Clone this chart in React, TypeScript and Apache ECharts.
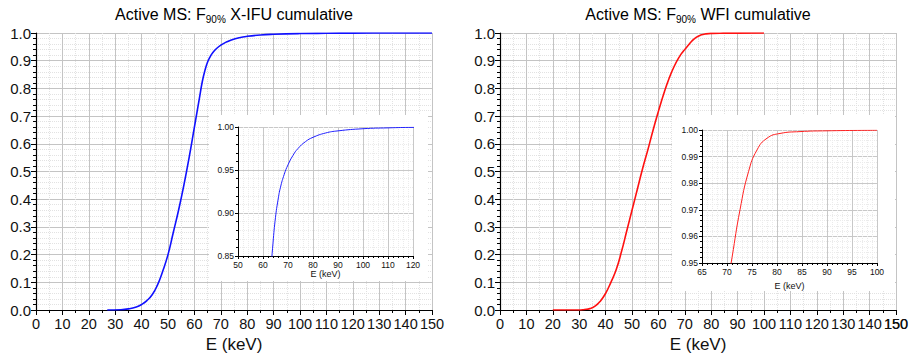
import React, { useEffect, useRef } from 'react';
import * as echarts from 'echarts';

// X-IFU cumulative F90% distribution
const xifuEnergy = [27, 32, 35, 38, 40, 42, 44, 46, 48, 50, 52, 54, 56, 58, 60, 62, 63, 64, 65, 66, 67, 68.5, 70, 72, 74, 77, 80, 85, 90, 100, 110, 120, 135, 150];
const xifuCumulative = [0, 0.001, 0.004, 0.011, 0.02, 0.034, 0.055, 0.09, 0.14, 0.2, 0.28, 0.36, 0.45, 0.55, 0.66, 0.77, 0.825, 0.865, 0.895, 0.915, 0.93, 0.945, 0.956, 0.967, 0.975, 0.983, 0.988, 0.993, 0.9955, 0.998, 0.999, 0.9996, 0.9999, 1.0];

// WFI cumulative F90% distribution
const wfiEnergy = [20, 30, 32, 34, 36, 38, 40, 42, 44, 46, 48, 50, 52, 54, 56, 58, 60, 62, 64, 66, 68, 69.5, 71, 72.6, 74.3, 76, 78, 80.6, 84.6, 90, 100];
const wfiCumulative = [0, 0, 0.002, 0.005, 0.014, 0.032, 0.06, 0.1, 0.145, 0.21, 0.285, 0.36, 0.435, 0.51, 0.578, 0.65, 0.717, 0.78, 0.835, 0.88, 0.915, 0.935, 0.952, 0.97, 0.9843, 0.9925, 0.9969, 0.9987, 0.9994, 0.9997, 0.9999];

// main x-axis range
const mainXMin = 0;
const mainXMax = 150;

const titles = ['Active MS: F|90%| X-IFU cumulative', 'Active MS: F|90%| WFI cumulative'];
const axisName = 'E (keV)';

const FONT = 'Liberation Sans';
const X_LABEL_SIZE = 14.5;
const X_LABEL_MARGIN = 6;

function pairs(xs: number[], ys: number[]) {
  return xs.map((x, i) => [x, ys[i]]);
}

function richTitle(t: string) {
  const [a, s, b] = t.split('|');
  return `{a|${a}}{s|${s}}{a|${b}}`;
}

function mainX(gridIndex: number) {
  return {
    type: 'value', gridIndex, min: mainXMin, max: mainXMax, interval: 10,
    axisLine: { show: true, onZero: false, lineStyle: { color: '#000', width: 1.2 } },
    axisTick: { show: true, length: 5, lineStyle: { color: '#000' } },
    minorTick: { show: true, splitNumber: 2, length: 3, lineStyle: { color: '#000' } },
    axisLabel: { color: '#111', fontSize: X_LABEL_SIZE, fontFamily: FONT, margin: X_LABEL_MARGIN, showMinLabel: true, showMaxLabel: true, hideOverlap: false },
    splitLine: { show: true, lineStyle: { color: '#c4c4c4', width: 1 } },
    minorSplitLine: { show: true, lineStyle: { color: '#e2e2e2', type: 'dotted', width: 1 } },
    name: axisName, nameLocation: 'middle', nameGap: 26,
    nameTextStyle: { fontSize: 17, color: '#111', fontFamily: FONT },
  };
}

function mainY(gridIndex: number) {
  return {
    type: 'value', gridIndex, min: 0, max: 1, interval: 0.1,
    axisLine: { show: true, onZero: false, lineStyle: { color: '#000', width: 1.2 } },
    axisTick: { show: true, length: 5, lineStyle: { color: '#000' } },
    minorTick: { show: true, splitNumber: 5, length: 3, lineStyle: { color: '#000' } },
    axisLabel: { color: '#111', fontSize: 15, fontFamily: FONT, margin: 5, showMinLabel: true, showMaxLabel: true, formatter: (v: number) => v.toFixed(1) },
    splitLine: { show: true, lineStyle: { color: '#c4c4c4', width: 1 } },
    minorSplitLine: { show: true, lineStyle: { color: '#e2e2e2', type: 'dotted', width: 1 } },
  };
}

function insetX(gridIndex: number, min: number, max: number, interval: number, nameGap: number) {
  return {
    type: 'value', gridIndex, min, max, interval, z: 4,
    axisLine: { show: true, onZero: false, lineStyle: { color: '#000', width: 1 } },
    axisTick: { show: true, length: 3, lineStyle: { color: '#000' } },
    minorTick: { show: true, splitNumber: 5, length: 2, lineStyle: { color: '#000' } },
    axisLabel: { color: '#111', fontSize: 8.5, fontFamily: FONT, margin: 4, showMinLabel: true, showMaxLabel: true },
    splitLine: { show: true, lineStyle: { color: '#c8c8c8', width: 1 } },
    minorSplitLine: { show: true, lineStyle: { color: '#ebebeb', type: 'dotted', width: 1 } },
    name: axisName, nameLocation: 'middle', nameGap,
    nameTextStyle: { fontSize: 9, color: '#111', fontFamily: FONT },
  };
}

function insetY(gridIndex: number, min: number, max: number, interval: number) {
  return {
    type: 'value', gridIndex, min, max, interval, z: 4,
    axisLine: { show: true, onZero: false, lineStyle: { color: '#000', width: 1 } },
    axisTick: { show: true, length: 3, lineStyle: { color: '#000' } },
    minorTick: { show: true, splitNumber: 5, length: 2, lineStyle: { color: '#000' } },
    axisLabel: { color: '#111', fontSize: 8.5, fontFamily: FONT, margin: 4, showMinLabel: true, showMaxLabel: true, formatter: (v: number) => v.toFixed(2) },
    splitLine: { show: true, lineStyle: { color: '#c8c8c8', width: 1 } },
    minorSplitLine: { show: true, lineStyle: { color: '#ebebeb', type: 'dotted', width: 1 } },
  };
}

const titleRich = {
  a: { fontSize: 16, fontFamily: FONT, color: '#222', lineHeight: 20 },
  s: { fontSize: 10, fontFamily: FONT, color: '#222', lineHeight: 2, verticalAlign: 'bottom' },
};

export default function App() {
  const ref = useRef<HTMLDivElement>(null);
  useEffect(() => {
    if (!ref.current) return;
    const chart = echarts.init(ref.current, undefined, { renderer: 'svg' });
    const xifu = pairs(xifuEnergy, xifuCumulative);
    const wfi = pairs(wfiEnergy, wfiCumulative);
    const baseGraphics: any[] = [
      { type: 'rect', z: 3, shape: { x: 209, y: 115, width: 219, height: 166 }, style: { fill: '#fff' } },
      { type: 'rect', z: 3, shape: { x: 672, y: 115, width: 223, height: 176 }, style: { fill: '#fff' } },
      { type: 'text', z: 6, x: 234, y: 14, style: { text: richTitle(titles[0]), align: 'center', verticalAlign: 'middle', rich: titleRich } },
      { type: 'text', z: 6, x: 698, y: 14, style: { text: richTitle(titles[1]), align: 'center', verticalAlign: 'middle', rich: titleRich } },
    ];
    chart.setOption({
      animation: false,
      backgroundColor: '#fff',
      grid: [
        { left: 36, top: 33, width: 396, height: 278 },
        { left: 500, top: 33, width: 396, height: 277 },
        { left: 238, top: 127, width: 175, height: 129, z: 4 },
        { left: 702, top: 130, width: 175, height: 133, z: 4 },
      ],
      xAxis: [
        mainX(0),
        mainX(1),
        insetX(2, 50, 120, 10, 11),
        insetX(3, 65, 100, 5, 18),
      ],
      yAxis: [
        mainY(0),
        mainY(1),
        insetY(2, 0.85, 1.0, 0.05),
        insetY(3, 0.95, 1.0, 0.01),
      ],
      series: [
        { type: 'line', xAxisIndex: 0, yAxisIndex: 0, data: xifu, showSymbol: false, smooth: 0.5, z: 2, lineStyle: { color: '#1010ff', width: 1.6 } },
        { type: 'line', xAxisIndex: 1, yAxisIndex: 1, data: wfi, showSymbol: false, smooth: 0.5, z: 2, lineStyle: { color: '#ff1010', width: 1.6 } },
        { type: 'line', xAxisIndex: 2, yAxisIndex: 2, data: xifu, showSymbol: false, smooth: 0.5, z: 5, lineStyle: { color: '#2020ff', width: 1 } },
        { type: 'line', xAxisIndex: 3, yAxisIndex: 3, data: wfi, showSymbol: false, smooth: 0.5, z: 5, lineStyle: { color: '#ff2020', width: 1 } },
      ],
      graphic: { elements: baseGraphics },
    });
    // The WFI axis drops its last tick label; place it at the axis' own pixel for the max value.
    const p = chart.convertToPixel({ xAxisIndex: 1, yAxisIndex: 1 } as any, [mainXMax, 0]) as number[];
    if (p && isFinite(p[0])) {
      chart.setOption({
        graphic: {
          elements: [
            ...baseGraphics,
            { type: 'text', z: 6, x: p[0], y: p[1] + X_LABEL_MARGIN, style: { text: String(mainXMax), align: 'center', verticalAlign: 'top', fontSize: X_LABEL_SIZE, fontFamily: FONT, fill: '#111' } },
          ],
        },
      });
    }
    return () => chart.dispose();
  }, []);
  return (
    <div style={{ position: 'absolute', left: 0, top: 0, width: 913, height: 358, overflow: 'hidden', background: '#fff' }}>
      <div ref={ref} style={{ position: 'absolute', left: 0, top: 0, width: 913, height: 358 }} />
    </div>
  );
}
